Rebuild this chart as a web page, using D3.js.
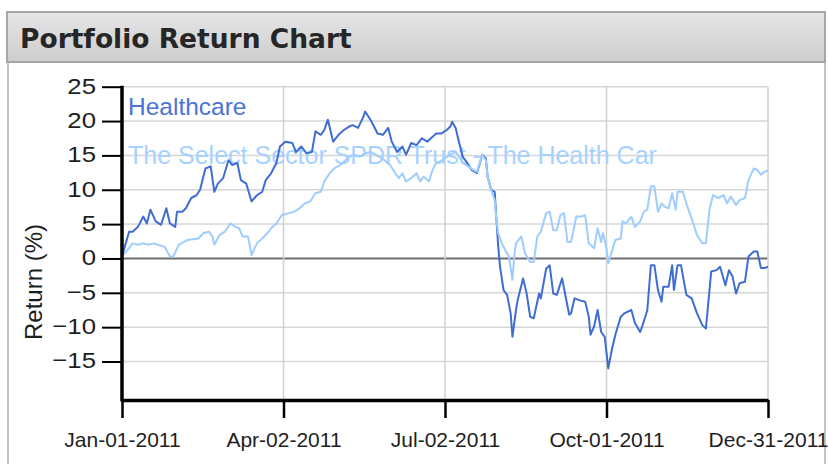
<!DOCTYPE html>
<html>
<head>
<meta charset="utf-8">
<script src="https://cdn.jsdelivr.net/npm/d3@7"></script>
<style>
  body { margin: 0; background: #fff; }
  text { font-family: "Liberation Sans", Arial, sans-serif; }
</style>
</head>
<body>
<svg id="chart" width="828" height="464"></svg>
<script>
// day offsets from Jan-01-2011 and return (%) values
var hcDays = [0,4,6,9,12,14,16,19,22,25,27,30,31,34,36,39,42,44,47,50,52,54,57,60,62,65,67,70,73,76,79,81,84,87,89,92,96,98,101,104,107,109,112,114,116,119,122,125,128,130,133,136,137,140,142,144,147,150,152,155,158,160,163,166,169,172,175,177,180,183,185,186,188,190,192,194,197,200,203,205,206,208,210,211,212,213,215,217,219,220,222,223,226,228,230,232,235,236,239,241,243,245,248,250,252,253,255,258,261,263,264,266,268,270,272,274,276,278,281,283,287,289,292,294,296,298,300,302,304,305,308,310,311,313,315,318,321,324,327,329,330,332,335,337,340,342,344,346,348,351,353,356,358,360,362,364]
var hcValues = [0.3,3.9,3.9,4.6,6.1,5.1,7.1,5.4,4.9,7.3,5.1,4.6,6.8,6.8,7.3,8.8,9.2,10.0,13.1,13.4,9.7,10.9,11.7,14.3,13.6,13.9,11.4,10.9,8.3,9.2,9.7,11.4,12.4,13.9,16.3,17.0,16.8,15.5,16.3,15.3,15.5,18.5,18.0,18.7,20.2,17.0,18.0,18.7,19.2,19.4,19.0,20.6,21.4,20.2,19.2,18.2,18.0,19.0,17.0,15.5,16.3,15.1,16.8,16.5,17.5,17.0,17.7,18.2,18.2,18.7,19.2,19.9,19.0,16.8,14.8,14.1,12.9,12.4,15.1,14.6,11.9,10.0,9.7,5.6,1.7,-1.2,-4.6,-5.3,-8.0,-11.4,-7.5,-6.0,-2.9,-5.1,-8.5,-8.7,-5.1,-5.8,-1.5,-1.0,-5.1,-5.3,-2.9,-5.6,-8.2,-8.0,-5.8,-6.1,-6.3,-8.5,-11.1,-9.9,-7.5,-10.7,-11.4,-16.0,-13.3,-11.1,-8.5,-8.0,-7.5,-9.4,-10.7,-9.2,-7.5,-1.0,-1.0,-4.6,-6.3,-4.1,-4.1,-1.0,-4.6,-1.0,-1.0,-5.3,-5.8,-8.0,-9.7,-10.2,-7.5,-1.9,-1.7,-1.2,-3.9,-1.7,-2.6,-5.1,-3.6,-3.4,0.3,1.0,1.0,-1.4,-1.4,-1.2]

var spdrDays = [0,4,6,9,12,15,18,20,24,27,29,32,35,37,40,43,46,49,51,52,55,58,61,64,66,68,71,73,76,79,82,84,87,90,94,97,100,103,106,109,112,114,117,120,123,126,128,131,134,137,140,143,145,148,151,154,156,158,160,163,166,168,170,173,175,177,179,182,185,188,190,192,195,198,200,203,205,206,208,210,211,212,214,216,218,220,221,222,225,227,230,232,234,236,239,241,243,245,247,249,251,253,256,259,261,263,266,268,270,271,273,274,276,278,281,282,284,287,289,292,294,296,298,300,302,304,306,308,310,312,313,316,318,321,324,327,329,331,333,336,339,341,343,346,348,351,353,356,358,360,362,364]
var spdrValues = [0.3,1.5,2.2,2.0,2.2,2.0,2.2,2.0,1.7,0.3,0.3,2.0,2.4,2.7,2.8,2.9,3.7,3.9,3.2,2.0,3.4,3.9,5.1,4.6,4.4,3.2,3.2,0.5,2.2,2.9,3.7,4.4,5.1,6.3,6.6,6.8,7.3,8.0,8.3,9.5,9.7,11.2,12.4,13.2,13.6,14.3,14.8,15.1,14.8,15.3,15.5,15.1,14.8,14.3,13.6,12.4,11.7,12.4,11.2,11.7,12.4,11.2,11.9,11.2,12.9,13.9,14.1,14.6,15.1,15.5,14.8,13.9,13.4,12.9,12.6,15.1,14.3,11.9,10.0,8.5,5.6,3.7,2.2,1.2,0.3,-3.1,0.3,2.2,3.2,0.8,-0.5,-0.5,3.2,3.9,6.6,6.8,4.1,4.1,6.3,6.6,2.4,2.4,6.1,6.1,6.3,2.2,1.5,4.4,2.4,3.7,1.5,-0.7,1.0,2.7,2.9,5.4,5.1,6.1,4.6,5.4,6.8,7.1,10.5,10.5,6.8,8.0,7.5,7.3,9.5,7.1,9.7,9.7,8.0,5.8,3.4,2.2,2.2,7.1,9.2,8.8,9.2,8.0,9.0,7.8,8.5,8.8,11.4,13.1,12.9,12.2,12.6,12.8]

var seriesNames = ["Healthcare", "The Select Sector SPDR Trust - The Health Car"]
var seriesColors = ["#3f6dd2", "#9fcdff"]
var yTicks = [-15, -10, -5, 0, 5, 10, 15, 20, 25]
var xTickDates = ["2011-01-01", "2011-04-02", "2011-07-02", "2011-10-01", "2011-12-31"]

var parse = d3.timeParse("%Y-%m-%d")
var start = parse("2011-01-01")
var toPoints = function(days, values){
  return days.map(function(d, i){ return { date: d3.timeDay.offset(start, d), value: values[i] } })
}
var series = [toPoints(hcDays, hcValues), toPoints(spdrDays, spdrValues)]

var svg = d3.select("#chart")
var plot = { left: 122, right: 768, top: 86.7, bottom: 400 }

// panel frame
svg.append("line").attr("x1", 8).attr("x2", 8).attr("y1", 60).attr("y2", 464)
    .attr("stroke", "#c4c4c4").attr("stroke-width", 2)
svg.append("line").attr("x1", 825).attr("x2", 825).attr("y1", 60).attr("y2", 464)
    .attr("stroke", "#c4c4c4").attr("stroke-width", 2)

var grad = svg.append("defs").append("linearGradient")
    .attr("id", "bar").attr("x1", 0).attr("x2", 0).attr("y1", 0).attr("y2", 1)
grad.append("stop").attr("offset", "0%").attr("stop-color", "#e6e6e6")
grad.append("stop").attr("offset", "100%").attr("stop-color", "#cdcdcd")

svg.append("rect")
    .attr("x", 7).attr("y", 12).attr("width", 818).attr("height", 50)
    .attr("fill", "url(#bar)").attr("stroke", "#a6a6a6").attr("stroke-width", 2)
svg.append("text")
    .attr("x", 20).attr("y", 48)
    .style("font-family", "'DejaVu Sans', Verdana, sans-serif")
    .style("font-weight", "bold").style("font-size", "26.5px")
    .attr("fill", "#262626")
    .text("Portfolio Return Chart")

var x = d3.scaleTime()
    .domain([parse("2011-01-01"), parse("2011-12-31")])
    .range([plot.left, plot.right])

var y = d3.scaleLinear()
    .domain([-20.6, 25])
    .range([plot.bottom, plot.top])

// grid
svg.append("g").selectAll("line")
    .data(yTicks)
  .enter().append("line")
    .attr("x1", plot.left).attr("x2", plot.right)
    .attr("y1", function(d){ return y(d) }).attr("y2", function(d){ return y(d) })
    .attr("stroke", function(d){ return d == 0 ? "#6e6e6e" : "#d6d6d6" })
    .attr("stroke-width", function(d){ return d == 0 ? 2 : 1.5 })

svg.append("g").selectAll("line")
    .data(xTickDates.slice(1))
  .enter().append("line")
    .attr("x1", function(d){ return x(parse(d)) }).attr("x2", function(d){ return x(parse(d)) })
    .attr("y1", plot.top).attr("y2", plot.bottom)
    .attr("stroke", "#d0d0d0").attr("stroke-width", 1.5)

// legend text sits under the lines
svg.append("g").selectAll("text")
    .data(seriesNames)
  .enter().append("text")
    .attr("x", 128)
    .attr("y", function(d, i){ return i == 0 ? 115 : 164 })
    .style("font-size", function(d, i){ return i == 0 ? "24.5px" : "25px" })
    .attr("fill", function(d, i){ return i == 0 ? "#4a74d6" : "#a6d2ff" })
    .text(function(d){ return d })

var line = d3.line()
    .x(function(d){ return x(d.date) })
    .y(function(d){ return y(d.value) })

svg.append("g").selectAll("path")
    .data(series)
  .enter().append("path")
    .attr("d", line)
    .attr("fill", "none")
    .attr("stroke", function(d, i){ return seriesColors[i] })
    .attr("stroke-width", 2)
    .attr("stroke-linejoin", "round")

// axes
var xAxis = svg.append("g")
    .attr("transform", "translate(0," + plot.bottom + ")")
    .call(d3.axisBottom(x)
      .tickValues(xTickDates.map(parse))
      .tickFormat(d3.timeFormat("%b-%d-%Y"))
      .tickSize(18).tickSizeOuter(0).tickPadding(14))
xAxis.select(".domain").attr("stroke-width", 3.5).attr("stroke", "#000")
xAxis.selectAll(".tick line").attr("stroke-width", 2.5).attr("stroke", "#000")
xAxis.selectAll(".tick text")
    .style("font-size", "21px").attr("fill", "#1e1e1e")
    .style("font-family", "'Liberation Sans', Arial, sans-serif")

var yAxis = svg.append("g")
    .attr("transform", "translate(" + plot.left + ",0)")
    .call(d3.axisLeft(y).tickValues(yTicks).tickSize(20).tickSizeOuter(0))
yAxis.select(".domain").attr("stroke-width", 3.5).attr("stroke", "#000")
    .attr("d", "M0," + (plot.top - 1) + "V" + (plot.bottom + 1.5))
yAxis.selectAll(".tick line").attr("stroke-width", 2).attr("stroke", "#000")
yAxis.selectAll(".tick text")
    .style("font-size", "23px").attr("fill", "#1e1e1e")
    .style("font-family", "'Liberation Sans', Arial, sans-serif")
    .attr("x", -26 / 1.12).attr("dy", "0.28em")
    .attr("transform", "scale(1.12,1)")

svg.append("text")
    .attr("transform", "translate(42,282) rotate(-90)")
    .attr("text-anchor", "middle")
    .style("font-size", "24px").attr("fill", "#1e1e1e")
    .text("Return (%)")
</script>
</body>
</html>
